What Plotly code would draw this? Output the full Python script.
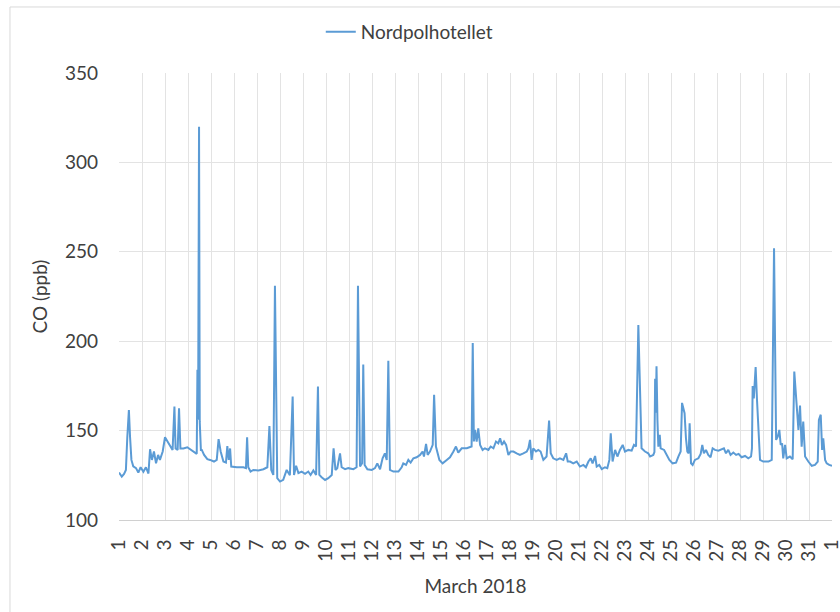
import plotly.graph_objects as go

# Hourly-ish CO record at Nordpolhotellet, March 2018 (day of month, fractional)
day = [
    1.00, 1.12, 1.22, 1.30, 1.36, 1.43, 1.48, 1.54, 1.62, 1.74, 1.84, 1.94,
    2.06, 2.17, 2.28, 2.35, 2.43, 2.52, 2.61, 2.70, 2.78, 2.90,
    3.00, 3.10, 3.22, 3.33, 3.41, 3.46, 3.55, 3.61, 3.67, 3.80, 3.97,
    4.16, 4.35, 4.38, 4.41, 4.44, 4.48, 4.51, 4.56, 4.60, 4.70, 4.84, 4.96,
    5.13, 5.25, 5.33, 5.42, 5.54, 5.65, 5.71, 5.77, 5.83, 5.88,
    6.12, 6.41, 6.52, 6.57, 6.62, 6.72, 6.84,
    7.06, 7.28, 7.45, 7.54, 7.62, 7.71, 7.78, 7.88,
    8.00, 8.14, 8.29, 8.43, 8.55, 8.61, 8.70, 8.80, 8.94,
    9.09, 9.23, 9.33, 9.45, 9.57, 9.65, 9.71, 9.81, 9.96,
    10.10, 10.25, 10.33, 10.41, 10.49, 10.61, 10.68, 10.83, 10.97,
    11.19, 11.33, 11.39, 11.48, 11.57, 11.62, 11.68, 11.80, 11.99,
    12.13, 12.23, 12.35, 12.46, 12.56, 12.64, 12.71, 12.78, 12.93,
    13.15, 13.29, 13.36, 13.48, 13.58, 13.68, 13.80, 13.94,
    14.09, 14.20, 14.26, 14.35, 14.42, 14.52, 14.64, 14.70, 14.78, 14.93,
    15.07, 15.25, 15.39, 15.54, 15.65, 15.75, 15.90,
    16.12, 16.33, 16.38, 16.43, 16.48, 16.55, 16.62, 16.70, 16.81, 16.91,
    17.06, 17.16, 17.28, 17.39, 17.49, 17.57, 17.65, 17.74, 17.83, 17.93,
    18.03, 18.15, 18.29, 18.43, 18.58, 18.73, 18.80, 18.87, 18.94,
    19.01, 19.13, 19.23, 19.33, 19.45, 19.59, 19.70, 19.77, 19.88,
    20.03, 20.17, 20.32, 20.44, 20.51, 20.61, 20.75, 20.90,
    21.04, 21.19, 21.30, 21.41, 21.51, 21.59, 21.70, 21.77, 21.88, 21.99,
    22.13, 22.23, 22.32, 22.38, 22.46, 22.57, 22.67, 22.78, 22.90,
    23.00, 23.15, 23.29, 23.39, 23.48, 23.58, 23.72, 23.87,
    24.01, 24.09, 24.23, 24.28, 24.31, 24.34, 24.37, 24.41, 24.45, 24.51,
    24.55, 24.70, 24.81, 24.93,
    25.07, 25.22, 25.32, 25.42, 25.48, 25.54, 25.59, 25.65, 25.71, 25.77,
    25.81, 25.87, 25.94,
    26.04, 26.19, 26.29, 26.36, 26.43, 26.52, 26.62, 26.72, 26.81, 26.91,
    27.06, 27.20, 27.30, 27.39, 27.49, 27.59, 27.71, 27.83, 27.94,
    28.07, 28.22, 28.36, 28.48, 28.52, 28.55, 28.60, 28.68, 28.74, 28.80,
    28.87,
    29.01, 29.24, 29.38, 29.48, 29.57, 29.64, 29.71, 29.77, 29.83, 29.88,
    29.96,
    30.03, 30.17, 30.29, 30.36, 30.46, 30.54, 30.61, 30.68, 30.75, 30.83,
    30.97,
    31.12, 31.26, 31.38, 31.43, 31.51, 31.57, 31.62, 31.70, 31.77, 31.88,
    32.00,
]

co_ppb = [
    126.5, 124.3, 125.8, 128.0, 146.0, 161.5, 146.6, 133.6, 130.0, 129.0, 126.5, 129.5,
    127.0, 129.5, 126.0, 139.6, 133.6, 138.3, 131.7, 136.4, 133.6, 138.3,
    146.3, 143.9, 141.0, 139.2, 163.4, 140.0, 139.2, 162.5, 140.0, 140.0, 140.7,
    139.2, 137.3, 137.0, 184.0, 156.0, 320.0, 155.0, 139.2, 139.2, 136.4, 134.0, 133.6,
    132.7, 133.6, 145.2, 138.3, 132.7, 132.1, 141.4, 133.6, 140.0, 129.9,
    129.5, 129.5, 129.0, 146.3, 129.5, 127.1, 128.0,
    127.7, 128.4, 129.5, 152.6, 128.0, 125.2, 231.0, 123.4,
    121.5, 122.5, 128.0, 125.0, 169.0, 125.2, 130.3, 126.2, 127.1,
    125.8, 127.1, 125.2, 127.7, 125.2, 174.7, 125.2, 123.9, 122.4,
    123.4, 125.2, 140.1, 128.0, 129.0, 137.3, 129.5, 128.4, 129.0,
    128.4, 129.5, 231.0, 129.9, 131.7, 187.0, 130.8, 128.4, 128.0,
    129.0, 131.7, 128.4, 134.5, 137.3, 133.6, 189.0, 128.0, 127.1,
    127.1, 129.5, 131.7, 130.8, 133.6, 132.1, 134.5, 135.1,
    136.4, 138.3, 135.5, 142.6, 136.4, 138.3, 142.0, 170.0, 141.1, 133.6,
    131.7, 133.6, 135.1, 138.3, 141.1, 137.7, 140.1,
    140.1, 141.1, 199.0, 143.9, 150.4, 143.9, 151.3, 142.0, 139.2, 140.1,
    139.2, 141.1, 140.1, 143.9, 142.9, 145.7, 142.0, 143.9, 142.0, 136.4,
    138.3, 138.3, 137.3, 136.4, 137.3, 138.3, 140.1, 144.8, 133.6,
    140.1, 138.3, 139.2, 138.3, 133.6, 135.5, 155.6, 137.3, 134.5,
    133.6, 134.5, 133.6, 137.3, 132.7, 132.7, 131.7, 132.7,
    129.9, 130.8, 129.5, 132.7, 134.5, 131.7, 135.8, 129.9, 130.8, 128.4,
    129.5, 129.0, 133.6, 148.5, 132.7, 139.2, 135.5, 139.2, 142.0,
    138.3, 139.2, 138.8, 142.0, 141.1, 209.0, 140.1, 138.3,
    137.3, 135.5, 136.4, 138.0, 179.0, 160.0, 186.0, 156.0, 141.0, 147.6,
    140.1, 139.2, 136.4, 133.6,
    131.7, 132.1, 135.5, 138.3, 165.5, 161.5, 159.7, 145.7, 138.3, 137.3,
    154.1, 131.7, 130.8,
    133.6, 134.5, 137.0, 142.0, 137.3, 139.2, 136.4, 135.1, 140.1, 139.2,
    138.8, 139.6, 140.1, 137.3, 139.2, 136.4, 137.7, 136.4, 137.0,
    135.1, 135.8, 134.5, 135.5, 140.0, 175.0, 168.0, 185.6, 167.0, 150.4,
    133.6,
    132.7, 132.7, 133.6, 252.0, 144.8, 146.6, 150.4, 142.0, 142.9, 134.5,
    142.0,
    134.5, 135.5, 134.0, 183.0, 167.0, 150.4, 164.0, 141.0, 155.0, 135.5,
    132.7,
    130.3, 130.8, 132.7, 156.0, 158.9, 139.2, 145.7, 133.6, 131.7, 130.8,
    130.3,
]

tick_days = list(range(1, 33))
tick_text = [str(d) for d in range(1, 32)] + ["1"]
y_ticks = [100, 150, 200, 250, 300, 350]

FONT = "Lato, 'Open Sans', sans-serif"
TEXT = "#404040"
GRID = "#e3e3e3"

fig = go.Figure()
fig.add_trace(go.Scatter(
    x=day, y=co_ppb, mode="lines", name="Nordpolhotellet",
    line=dict(color="#5b9bd5", width=2),
))

fig.update_layout(
    width=840, height=612,
    margin=dict(l=119, r=8, t=73, b=92),
    paper_bgcolor="white", plot_bgcolor="white",
    font=dict(family=FONT, size=19, color=TEXT),
    showlegend=True,
    legend=dict(
        orientation="h", x=0.283, y=1.092, xanchor="left", yanchor="middle",
        font=dict(size=19, color=TEXT), bgcolor="rgba(0,0,0,0)",
        itemwidth=30,
    ),
    xaxis=dict(
        range=[1, 32.0001], tickmode="array", tickvals=tick_days,
        ticktext=tick_text, tickangle=-90, ticklabeloverflow="allow",
        automargin=False,
        showgrid=True, gridcolor=GRID, gridwidth=1,
        zeroline=False, showline=True, linecolor="#d0d0d0", linewidth=1,
        ticks="", ticklabelstandoff=11,
        title=dict(text="March 2018", font=dict(size=19, color=TEXT), standoff=19),
    ),
    yaxis=dict(
        range=[100, 350], tickvals=y_ticks, showgrid=True, gridcolor=GRID,
        gridwidth=1, zeroline=False, showline=False, ticks="",
        ticklabelstandoff=20, automargin=False,
        title=dict(text="CO (ppb)", font=dict(size=19, color=TEXT), standoff=12),
    ),
    shapes=[dict(
        type="rect", xref="paper", yref="paper",
        x0=-0.1529, x1=1.03, y0=-0.23, y1=1.1477,
        line=dict(color="#d9d9d9", width=1), fillcolor="rgba(0,0,0,0)",
        layer="below",
    )],
)

fig.write_html("out.html")
